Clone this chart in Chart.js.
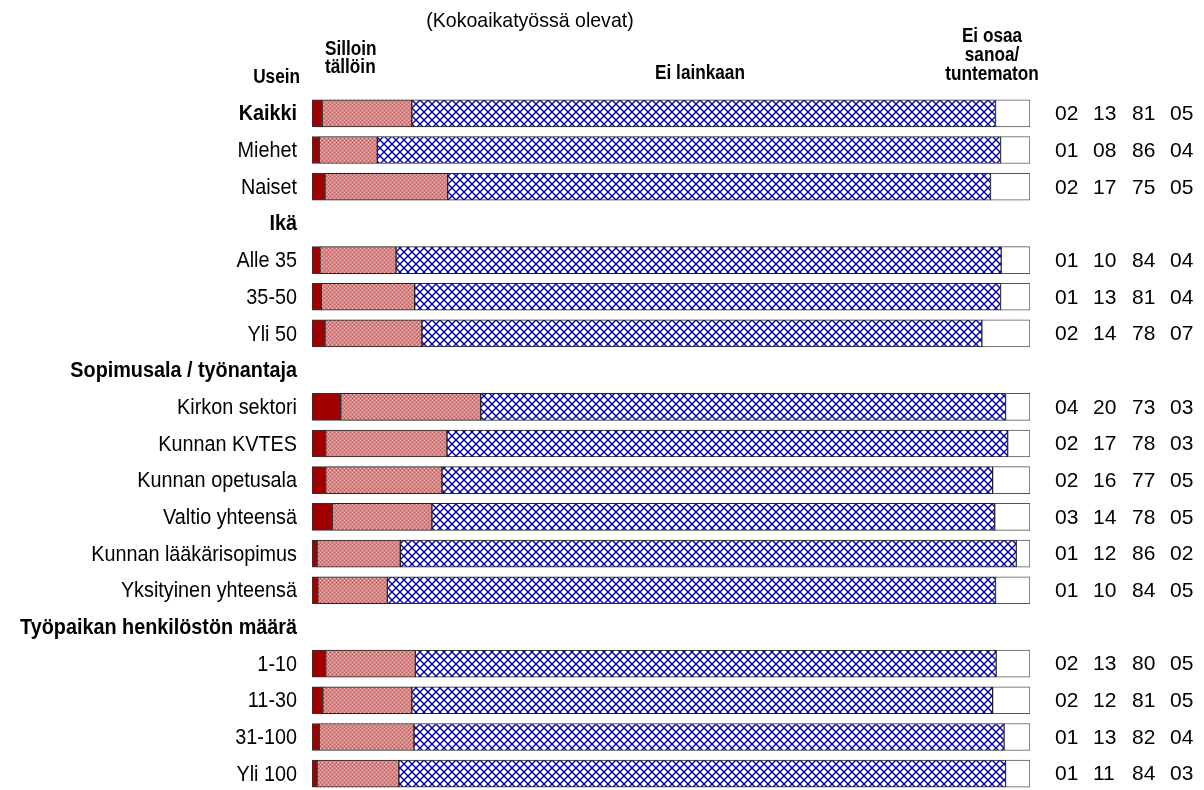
<!DOCTYPE html>
<html>
<head>
<meta charset="utf-8">
<script src="https://cdn.jsdelivr.net/npm/chart.js@4/dist/chart.umd.min.js"></script>
<style>
  html, body { margin: 0; padding: 0; background: #fff; overflow: hidden; }
  #wrap { width: 1204px; height: 800px; position: relative; }
</style>
</head>
<body>
<div id="wrap"><canvas id="grafico"></canvas></div>
<script>
const kategoriat = ['Kaikki', 'Miehet', 'Naiset', 'Ikä', 'Alle 35', '35-50', 'Yli 50',
  'Sopimusala / työnantaja', 'Kirkon sektori', 'Kunnan KVTES', 'Kunnan opetusala',
  'Valtio yhteensä', 'Kunnan lääkärisopimus', 'Yksityinen yhteensä',
  'Työpaikan henkilöstön määrä', '1-10', '11-30', '31-100', 'Yli 100'];
const lihavoidut = ['Kaikki', 'Ikä', 'Sopimusala / työnantaja', 'Työpaikan henkilöstön määrä'];

// segmenttien leveydet (%) kuvasta arvioituna
const usein      = [1.4, 1.0, 1.8, null, 1.1, 1.3, 1.8, null, 4.0, 1.9, 1.9, 2.8, 0.7, 0.8, null, 1.9, 1.5, 1.0, 0.7];
const silloin    = [12.5, 8.1, 17.1, null, 10.6, 13.0, 13.5, null, 19.5, 16.9, 16.2, 13.9, 11.6, 9.7, null, 12.5, 12.4, 13.2, 11.4];
const eiLainkaan = [81.3, 86.8, 75.6, null, 84.3, 81.6, 78.0, null, 73.1, 78.1, 76.7, 78.4, 85.8, 84.7, null, 80.9, 80.9, 82.2, 84.5];
const eiOsaa     = [4.8, 4.1, 5.5, null, 4.0, 4.1, 6.7, null, 3.4, 3.1, 5.2, 4.9, 1.9, 4.8, null, 4.7, 5.2, 3.6, 3.4];

// oikean reunan lukuarvot
const tekstiUsein   = ['02', '01', '02', null, '01', '01', '02', null, '04', '02', '02', '03', '01', '01', null, '02', '02', '01', '01'];
const tekstiSilloin = ['13', '08', '17', null, '10', '13', '14', null, '20', '17', '16', '14', '12', '10', null, '13', '12', '13', '11'];
const tekstiEi      = ['81', '86', '75', null, '84', '81', '78', null, '73', '78', '77', '78', '86', '84', null, '80', '81', '82', '84'];
const tekstiEos     = ['05', '04', '05', null, '04', '04', '07', null, '03', '03', '05', '05', '02', '05', null, '05', '05', '04', '03'];

const fontti = "'Liberation Sans', Arial, sans-serif";

function pinkkiKuvio() {
  const c = document.createElement('canvas');
  c.width = 4; c.height = 4;
  const x = c.getContext('2d');
  x.fillStyle = '#d98585';
  x.fillRect(0, 0, 4, 4);
  x.fillStyle = '#f0b4b4';
  x.fillRect(0, 0, 1, 1); x.fillRect(2, 2, 1, 1);
  x.fillStyle = '#bd5c5c';
  x.fillRect(2, 0, 1, 1); x.fillRect(0, 2, 1, 1);
  return x.createPattern(c, 'repeat');
}

function ristiKuvio() {
  const c = document.createElement('canvas');
  c.width = 8; c.height = 8;
  const x = c.getContext('2d');
  x.fillStyle = '#ffffff';
  x.fillRect(0, 0, 8, 8);
  x.strokeStyle = '#0000b4';
  x.lineWidth = 1.4;
  x.beginPath();
  x.moveTo(-1, -1); x.lineTo(9, 9);
  x.moveTo(9, -1); x.lineTo(-1, 9);
  x.stroke();
  return x.createPattern(c, 'repeat');
}

// kapeampi teksti: piirretään vaakasuunnassa puristettuna
function teksti(ctx, s, x, y, font, align, sx) {
  ctx.save();
  ctx.font = font;
  ctx.textAlign = align;
  ctx.textBaseline = 'middle';
  ctx.translate(x, y);
  ctx.scale(sx, 1);
  ctx.fillText(s, 0, 0);
  ctx.restore();
}

const otsikot = {
  id: 'otsikot',
  afterDraw(chart) {
    const ctx = chart.ctx;
    ctx.save();
    ctx.fillStyle = '#000';
    teksti(ctx, '(Kokoaikatyössä olevat)', 530, 21, '21px ' + fontti, 'center', 0.93);

    const b = 'bold 20px ' + fontti;
    teksti(ctx, 'Usein', 300, 77, b, 'right', 0.86);
    teksti(ctx, 'Silloin', 325, 49, b, 'left', 0.86);
    teksti(ctx, 'tällöin', 325, 67, b, 'left', 0.86);
    teksti(ctx, 'Ei lainkaan', 700, 73, b, 'center', 0.86);
    teksti(ctx, 'Ei osaa', 992, 36, b, 'center', 0.86);
    teksti(ctx, 'sanoa/', 992, 55, b, 'center', 0.86);
    teksti(ctx, 'tuntematon', 992, 74, b, 'center', 0.86);

    const y = chart.scales.y;
    kategoriat.forEach((k, i) => {
      const py = y.getPixelForValue(i) + 1;
      const f = (lihavoidut.includes(k) ? 'bold ' : '') + '22px ' + fontti;
      teksti(ctx, k, 297, py, f, 'right', 0.9);
    });

    // lukuarvot oikealla
    const sarakkeet = [[tekstiUsein, 1055], [tekstiSilloin, 1093], [tekstiEi, 1132], [tekstiEos, 1170]];
    kategoriat.forEach((k, i) => {
      if (tekstiUsein[i] === null) return;
      const py = y.getPixelForValue(i) + 1;
      sarakkeet.forEach(([arr, px]) => teksti(ctx, arr[i], px, py, '21px ' + fontti, 'left', 1));
    });
    ctx.restore();
  }
};

const yhteinen = { borderWidth: 1, borderSkipped: false, barThickness: 27 };

new Chart(document.getElementById('grafico'), {
  type: 'bar',
  data: {
    labels: kategoriat,
    datasets: [
      { label: 'Usein', data: usein, backgroundColor: '#a00000', borderColor: '#333', ...yhteinen },
      { label: 'Silloin tällöin', data: silloin, backgroundColor: pinkkiKuvio(), borderColor: '#222', ...yhteinen },
      { label: 'Ei lainkaan', data: eiLainkaan, backgroundColor: ristiKuvio(), borderColor: '#222', ...yhteinen },
      { label: 'Ei osaa sanoa/tuntematon', data: eiOsaa, backgroundColor: '#ffffff', borderColor: '#555', ...yhteinen }
    ]
  },
  options: {
    indexAxis: 'y',
    responsive: true,
    maintainAspectRatio: false,
    animation: false,
    layout: { padding: { top: 95, bottom: 8, right: 174, left: 312 } },
    plugins: { legend: { display: false }, tooltip: { enabled: false } },
    scales: {
      x: { stacked: true, min: 0, max: 100, display: false },
      y: { stacked: true, display: false }
    }
  },
  plugins: [otsikot]
});
</script>
</body>
</html>
